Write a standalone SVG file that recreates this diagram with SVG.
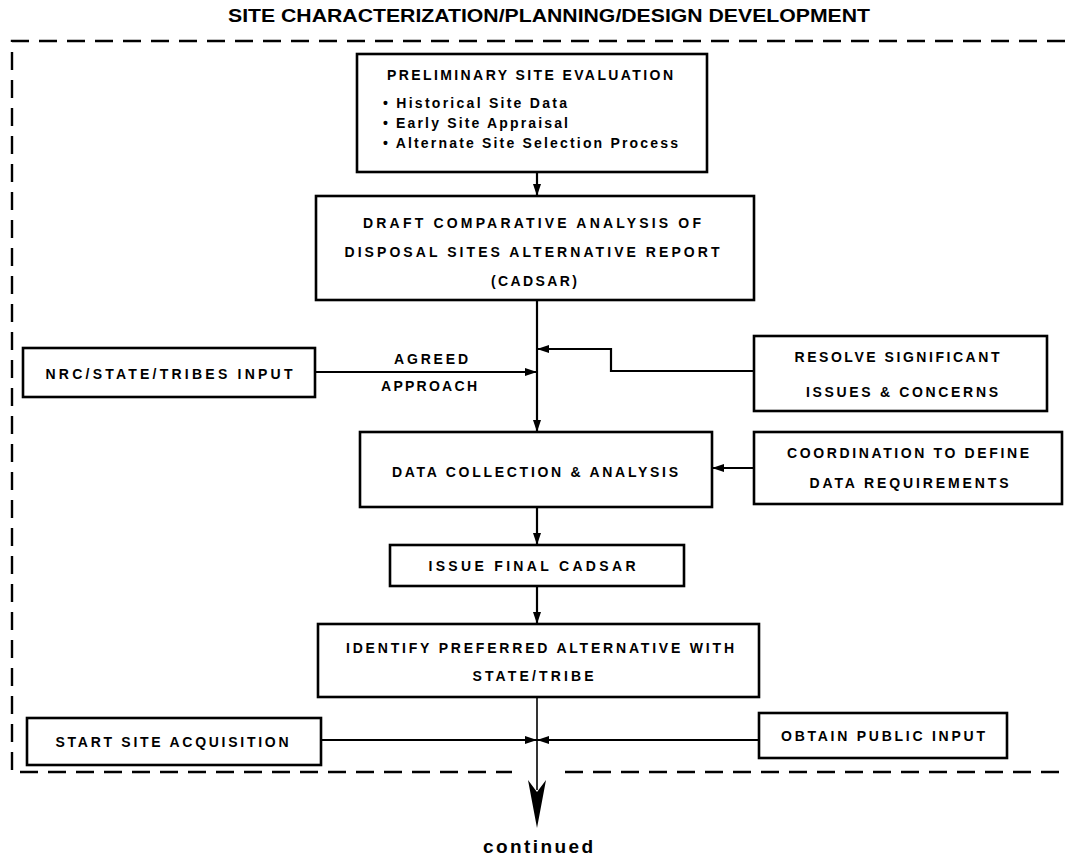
<svg xmlns="http://www.w3.org/2000/svg" width="1065" height="859" viewBox="0 0 1065 859">
  <style>
    .box { fill: #fff; stroke: #000; stroke-width: 2.6; }
    .lbl { font-family: "Liberation Sans", Arial, sans-serif; font-weight: bold; font-size: 14px; fill: #000; text-anchor: middle; }
    .bul { font-family: "Liberation Sans", Arial, sans-serif; font-weight: bold; font-size: 14px; fill: #000; }
    .ttl { font-family: "Liberation Sans", Arial, sans-serif; font-weight: bold; font-size: 18px; fill: #000; text-anchor: middle; }
    .cont { font-family: "Liberation Sans", Arial, sans-serif; font-weight: bold; font-size: 19px; fill: #000; text-anchor: middle; }
    .dash { fill: none; stroke: #000; stroke-width: 2.4; stroke-dasharray: 18 10; }
    .line { fill: none; stroke: #000; stroke-width: 2.2; }
    .thin { fill: none; stroke: #000; stroke-width: 1.6; }
  </style>
  <defs>
    <marker id="arr" viewBox="0 0 12 8" refX="12" refY="4" markerWidth="12" markerHeight="8" orient="auto" markerUnits="userSpaceOnUse">
      <path d="M0,0 L12,4 L0,8 z" fill="#000"/>
    </marker>
  </defs>

  <!-- heading -->
  <text class="ttl" x="549" y="22" textLength="642" lengthAdjust="spacingAndGlyphs">SITE CHARACTERIZATION/PLANNING/DESIGN DEVELOPMENT</text>

  <!-- phase boundary -->
  <g id="boundary">
    <path class="dash" d="M1065,41 H12 V772 H512"/>
    <path class="dash" d="M565,772 H1065"/>
  </g>

  <!-- connectors -->
  <g id="connectors">
    <line class="line" x1="537" y1="172" x2="537" y2="196" marker-end="url(#arr)"/>
    <line class="line" x1="537" y1="300" x2="537" y2="432" marker-end="url(#arr)"/>
    <line class="line" x1="315" y1="372" x2="537" y2="372" marker-end="url(#arr)"/>
    <polyline class="line" points="754,371 611,371 611,349 537,349" marker-end="url(#arr)"/>
    <line class="line" x1="754" y1="468" x2="712" y2="468" marker-end="url(#arr)"/>
    <line class="line" x1="537" y1="507" x2="537" y2="545" marker-end="url(#arr)"/>
    <line class="line" x1="537" y1="586" x2="537" y2="624" marker-end="url(#arr)"/>
    <line class="thin" x1="537" y1="697" x2="537" y2="790"/>
    <line class="line" x1="321" y1="740" x2="537" y2="740" marker-end="url(#arr)"/>
    <line class="line" x1="759" y1="740" x2="537" y2="740" marker-end="url(#arr)"/>
    <path d="M537,828 L528,780 L537,792 L546,780 z" fill="#000"/>
    <text class="lbl" x="431" y="364" textLength="74" lengthAdjust="spacing">AGREED</text>
    <text class="lbl" x="429" y="391" textLength="96" lengthAdjust="spacing">APPROACH</text>
  </g>

  <g id="preliminary">
    <rect class="box" x="357" y="54" width="350" height="118"/>
    <text class="lbl" x="530" y="80" textLength="286" lengthAdjust="spacing">PRELIMINARY SITE EVALUATION</text>
    <text class="bul" x="383" y="108" textLength="184" lengthAdjust="spacing">• Historical Site Data</text>
    <text class="bul" x="383" y="128" textLength="185" lengthAdjust="spacing">• Early Site Appraisal</text>
    <text class="bul" x="383" y="148" textLength="295" lengthAdjust="spacing">• Alternate Site Selection Process</text>
  </g>

  <g id="draft">
    <rect class="box" x="316" y="196" width="438" height="104"/>
    <text class="lbl" x="532" y="228" textLength="338" lengthAdjust="spacing">DRAFT COMPARATIVE ANALYSIS OF</text>
    <text class="lbl" x="532" y="257" textLength="375" lengthAdjust="spacing">DISPOSAL SITES ALTERNATIVE REPORT</text>
    <text class="lbl" x="534" y="286" textLength="86" lengthAdjust="spacing">(CADSAR)</text>
  </g>

  <g id="nrc">
    <rect class="box" x="23" y="348" width="292" height="49"/>
    <text class="lbl" x="169" y="379" textLength="247" lengthAdjust="spacing">NRC/STATE/TRIBES INPUT</text>
  </g>

  <g id="resolve">
    <rect class="box" x="754" y="336" width="293" height="75"/>
    <text class="lbl" x="897" y="362" textLength="205" lengthAdjust="spacing">RESOLVE SIGNIFICANT</text>
    <text class="lbl" x="902" y="397" textLength="192" lengthAdjust="spacing">ISSUES &amp; CONCERNS</text>
  </g>

  <g id="data">
    <rect class="box" x="360" y="432" width="352" height="75"/>
    <text class="lbl" x="535" y="477" textLength="286" lengthAdjust="spacing">DATA COLLECTION &amp; ANALYSIS</text>
  </g>

  <g id="coordination">
    <rect class="box" x="754" y="432" width="308" height="72"/>
    <text class="lbl" x="908" y="458" textLength="242" lengthAdjust="spacing">COORDINATION TO DEFINE</text>
    <text class="lbl" x="909" y="488" textLength="199" lengthAdjust="spacing">DATA REQUIREMENTS</text>
  </g>

  <g id="final">
    <rect class="box" x="390" y="545" width="294" height="41"/>
    <text class="lbl" x="532" y="571" textLength="207" lengthAdjust="spacing">ISSUE FINAL CADSAR</text>
  </g>

  <g id="identify">
    <rect class="box" x="318" y="624" width="441" height="73"/>
    <text class="lbl" x="540" y="653" textLength="388" lengthAdjust="spacing">IDENTIFY PREFERRED ALTERNATIVE WITH</text>
    <text class="lbl" x="533" y="681" textLength="121" lengthAdjust="spacing">STATE/TRIBE</text>
  </g>

  <g id="acquisition">
    <rect class="box" x="27" y="718" width="294" height="47"/>
    <text class="lbl" x="172" y="747" textLength="233" lengthAdjust="spacing">START SITE ACQUISITION</text>
  </g>

  <g id="public">
    <rect class="box" x="759" y="713" width="248" height="45"/>
    <text class="lbl" x="883" y="741" textLength="204" lengthAdjust="spacing">OBTAIN PUBLIC INPUT</text>
  </g>

  <text class="cont" x="538" y="853" textLength="110" lengthAdjust="spacing">continued</text>
</svg>
